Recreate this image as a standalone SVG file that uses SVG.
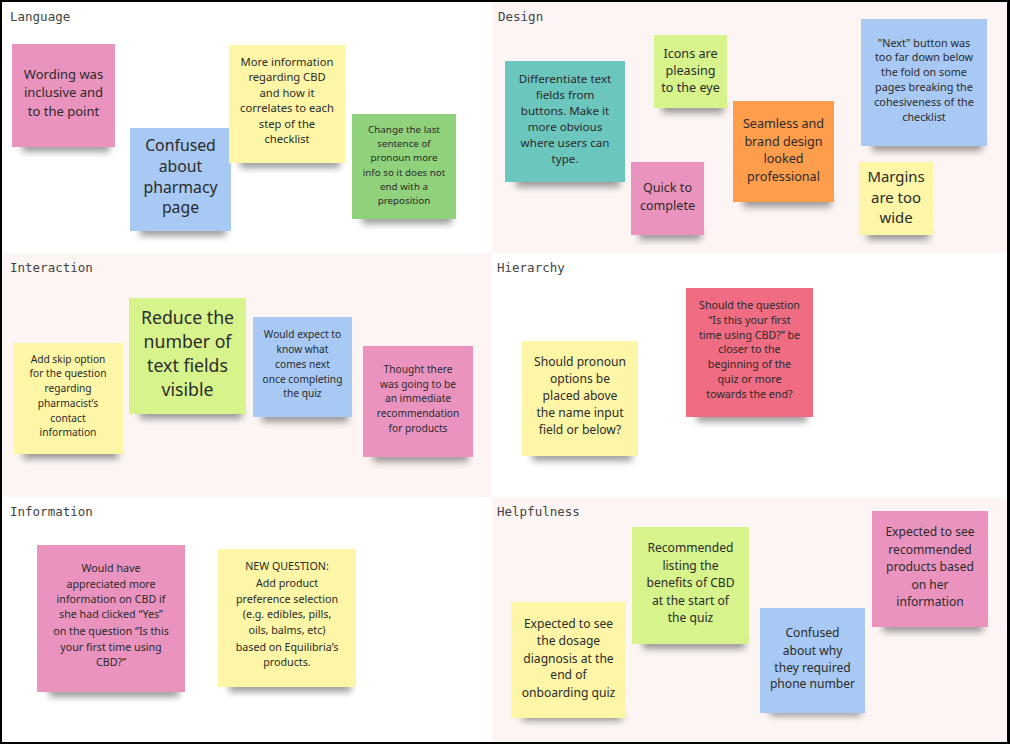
<svg xmlns="http://www.w3.org/2000/svg" width="1010" height="744" viewBox="0 0 1010 744">
<style>
.lbl{font-family:"DejaVu Sans Mono","Liberation Mono",monospace;font-size:12.5px;fill:#444}
.t{font-family:"Noto Sans","Open Sans",sans-serif;fill:#2b2b2b;text-anchor:middle}
.sh{fill:#000;opacity:.38;filter:url(#blur)}
.pink{fill:#ea93bf}.blue{fill:#a7c9f3}.yel{fill:#fdf6a6}.grn{fill:#90d27c}.teal{fill:#6bc6be}.lime{fill:#d6f38c}.org{fill:#fe9d4b}.red{fill:#ef6c82}
.bgw{fill:#ffffff}.bgp{fill:#fdf5f4}
</style>
<defs>
<filter id="blur" x="-20%" y="-100%" width="140%" height="300%"><feGaussianBlur stdDeviation="3.5"/></filter>
</defs>
<rect x="0" y="0" width="1010" height="744" fill="#000"/>
<g id="sections">
<rect class="bgw" x="2" y="2" width="490" height="251"/>
<rect class="bgp" x="492" y="2" width="515" height="251"/>
<rect class="bgp" x="2" y="253" width="490" height="244"/>
<rect class="bgw" x="492" y="253" width="515" height="244"/>
<rect class="bgw" x="2" y="497" width="490" height="245"/>
<rect class="bgp" x="492" y="497" width="515" height="245"/>
<text class="lbl" x="10" y="21">Language</text>
<text class="lbl" x="498" y="21">Design</text>
<text class="lbl" x="10" y="272">Interaction</text>
<text class="lbl" x="497" y="272">Hierarchy</text>
<text class="lbl" x="10" y="516">Information</text>
<text class="lbl" x="497" y="516">Helpfulness</text>
</g>
<g id="connectors"></g>

<g id="lang-1"><rect class="sh" x="22" y="140" width="88" height="12"/><rect class="pink" x="12" y="44" width="103" height="103"/>
<text class="t" font-size="13"><tspan x="63.5" y="79">Wording was</tspan><tspan x="63.5" y="97">inclusive and</tspan><tspan x="63.5" y="116">to the point</tspan></text></g>
<g id="lang-2"><rect class="sh" x="140" y="224" width="86" height="12"/><rect class="blue" x="130" y="128" width="101" height="103"/>
<text class="t" font-size="15.8"><tspan x="180.5" y="151">Confused</tspan><tspan x="180.5" y="172">about</tspan><tspan x="180.5" y="193">pharmacy</tspan><tspan x="180.5" y="213">page</tspan></text></g>
<g id="lang-3"><rect class="sh" x="240" y="156" width="100" height="12"/><rect class="yel" x="229" y="45" width="116" height="118"/>
<text class="t" font-size="11.2"><tspan x="287" y="66">More information</tspan><tspan x="287" y="81">regarding CBD</tspan><tspan x="287" y="97">and how it</tspan><tspan x="287" y="112">correlates to each</tspan><tspan x="287" y="128">step of the</tspan><tspan x="287" y="143">checklist</tspan></text></g>
<g id="lang-4"><rect class="sh" x="362" y="212" width="90" height="12"/><rect class="grn" x="352" y="114" width="104" height="105"/>
<text class="t" font-size="9.8"><tspan x="404" y="133">Change the last</tspan><tspan x="404" y="147">sentence of</tspan><tspan x="404" y="161">pronoun more</tspan><tspan x="404" y="176">info so it does not</tspan><tspan x="404" y="190">end with a</tspan><tspan x="404" y="204">preposition</tspan></text></g>

<g id="design-1"><rect class="sh" x="516" y="175" width="104" height="12"/><rect class="teal" x="505" y="61" width="120" height="121"/>
<text class="t" font-size="11.6"><tspan x="565" y="82.5">Differentiate text</tspan><tspan x="565" y="98.5">fields from</tspan><tspan x="565" y="114.5">buttons. Make it</tspan><tspan x="565" y="131">more obvious</tspan><tspan x="565" y="146.5">where users can</tspan><tspan x="565" y="162.5">type.</tspan></text></g>
<g id="design-2"><rect class="sh" x="662" y="101" width="62" height="12"/><rect class="lime" x="654" y="35" width="73" height="73"/>
<text class="t" font-size="12.6"><tspan x="690.5" y="58">Icons are</tspan><tspan x="690.5" y="75">pleasing</tspan><tspan x="690.5" y="92">to the eye</tspan></text></g>
<g id="design-3"><rect class="sh" x="639" y="228" width="62" height="12"/><rect class="pink" x="631" y="162" width="73" height="73"/>
<text class="t" font-size="12.6"><tspan x="667.5" y="192">Quick to</tspan><tspan x="667.5" y="210">complete</tspan></text></g>
<g id="design-4"><rect class="sh" x="743" y="195" width="88" height="12"/><rect class="org" x="733" y="101" width="101" height="101"/>
<text class="t" font-size="12.6"><tspan x="783.5" y="128">Seamless and</tspan><tspan x="783.5" y="146">brand design</tspan><tspan x="783.5" y="163">looked</tspan><tspan x="783.5" y="181">professional</tspan></text></g>
<g id="design-5"><rect class="sh" x="872" y="139" width="110" height="12"/><rect class="blue" x="861" y="19" width="126" height="127"/>
<text class="t" font-size="10.8"><tspan x="924" y="47">"Next" button was</tspan><tspan x="924" y="61">too far down below</tspan><tspan x="924" y="76">the fold on some</tspan><tspan x="924" y="91">pages breaking the</tspan><tspan x="924" y="106">cohesiveness of the</tspan><tspan x="924" y="121">checklist</tspan></text></g>
<g id="design-6"><rect class="sh" x="867" y="228" width="62" height="12"/><rect class="yel" x="859" y="162" width="74" height="73"/>
<text class="t" font-size="14.9"><tspan x="896" y="182">Margins</tspan><tspan x="896" y="203">are too</tspan><tspan x="896" y="223">wide</tspan></text></g>

<g id="inter-1"><rect class="sh" x="23" y="447" width="95" height="12"/><rect class="yel" x="13" y="343" width="110" height="111"/>
<text class="t" font-size="10.2"><tspan x="68" y="363">Add skip option</tspan><tspan x="68" y="377">for the question</tspan><tspan x="68" y="392">regarding</tspan><tspan x="68" y="407">pharmacist’s</tspan><tspan x="68" y="422">contact</tspan><tspan x="68" y="436">information</tspan></text></g>
<g id="inter-2"><rect class="sh" x="140" y="407" width="102" height="12"/><rect class="lime" x="129" y="298" width="117" height="116"/>
<text class="t" font-size="17.7"><tspan x="187.5" y="324">Reduce the</tspan><tspan x="187.5" y="348">number of</tspan><tspan x="187.5" y="372">text fields</tspan><tspan x="187.5" y="396">visible</tspan></text></g>
<g id="inter-3"><rect class="sh" x="262" y="410" width="86" height="12"/><rect class="blue" x="253" y="317" width="99" height="100"/>
<text class="t" font-size="10.2"><tspan x="302.5" y="338">Would expect to</tspan><tspan x="302.5" y="353">know what</tspan><tspan x="302.5" y="368">comes next</tspan><tspan x="302.5" y="383">once completing</tspan><tspan x="302.5" y="397">the quiz</tspan></text></g>
<g id="inter-4"><rect class="sh" x="373" y="450" width="95" height="12"/><rect class="pink" x="363" y="346" width="110" height="111"/>
<text class="t" font-size="10.2"><tspan x="418" y="373">Thought there</tspan><tspan x="418" y="388">was going to be</tspan><tspan x="418" y="402">an immediate</tspan><tspan x="418" y="417">recommendation</tspan><tspan x="418" y="432">for products</tspan></text></g>

<g id="hier-1"><rect class="sh" x="532" y="449" width="100" height="12"/><rect class="yel" x="522" y="341" width="116" height="115"/>
<text class="t" font-size="12.1"><tspan x="580" y="366">Should pronoun</tspan><tspan x="580" y="383">options be</tspan><tspan x="580" y="400">placed above</tspan><tspan x="580" y="417">the name input</tspan><tspan x="580" y="434">field or below?</tspan></text></g>
<g id="hier-2"><rect class="sh" x="697" y="410" width="110" height="12"/><rect class="red" x="686" y="288" width="127" height="129"/>
<text class="t" font-size="10.7"><tspan x="749.5" y="309">Should the question</tspan><tspan x="749.5" y="324">“Is this your first</tspan><tspan x="749.5" y="339">time using CBD?” be</tspan><tspan x="749.5" y="353">closer to the</tspan><tspan x="749.5" y="368">beginning of the</tspan><tspan x="749.5" y="383">quiz or more</tspan><tspan x="749.5" y="398">towards the end?</tspan></text></g>

<g id="info-1"><rect class="sh" x="49" y="685" width="130" height="12"/><rect class="pink" x="37" y="545" width="148" height="147"/>
<text class="t" font-size="10.7"><tspan x="111" y="572">Would have</tspan><tspan x="111" y="588">appreciated more</tspan><tspan x="111" y="603">information on CBD if</tspan><tspan x="111" y="618">she had clicked “Yes”</tspan><tspan x="111" y="635">on the question “Is this</tspan><tspan x="111" y="651">your first time using</tspan><tspan x="111" y="666">CBD?”</tspan></text></g>
<g id="info-2"><rect class="sh" x="229" y="680" width="122" height="12"/><rect class="yel" x="218" y="549" width="138" height="138"/>
<text class="t" font-size="10.7"><tspan x="287" y="570">NEW QUESTION:</tspan><tspan x="287" y="587">Add product</tspan><tspan x="287" y="603">preference selection</tspan><tspan x="287" y="618">(e.g. edibles, pills,</tspan><tspan x="287" y="634">oils, balms, etc)</tspan><tspan x="287" y="651">based on Equilibria’s</tspan><tspan x="287" y="666">products.</tspan></text></g>

<g id="help-1"><rect class="sh" x="522" y="711" width="100" height="10"/><rect class="yel" x="511" y="602" width="115" height="116"/>
<text class="t" font-size="12.1"><tspan x="568.5" y="628">Expected to see</tspan><tspan x="568.5" y="645">the dosage</tspan><tspan x="568.5" y="663">diagnosis at the</tspan><tspan x="568.5" y="679">end of</tspan><tspan x="568.5" y="697">onboarding quiz</tspan></text></g>
<g id="help-2"><rect class="sh" x="643" y="637" width="102" height="12"/><rect class="lime" x="632" y="527" width="117" height="117"/>
<text class="t" font-size="12.1"><tspan x="690.5" y="552">Recommended</tspan><tspan x="690.5" y="570">listing the</tspan><tspan x="690.5" y="587">benefits of CBD</tspan><tspan x="690.5" y="605">at the start of</tspan><tspan x="690.5" y="622">the quiz</tspan></text></g>
<g id="help-3"><rect class="sh" x="770" y="706" width="91" height="10"/><rect class="blue" x="760" y="608" width="105" height="105"/>
<text class="t" font-size="12.1"><tspan x="812.5" y="637">Confused</tspan><tspan x="812.5" y="655">about why</tspan><tspan x="812.5" y="672">they required</tspan><tspan x="812.5" y="688">phone number</tspan></text></g>
<g id="help-4"><rect class="sh" x="883" y="620" width="100" height="12"/><rect class="pink" x="872" y="511" width="116" height="116"/>
<text class="t" font-size="12.1"><tspan x="930" y="536">Expected to see</tspan><tspan x="930" y="554">recommended</tspan><tspan x="930" y="571">products based</tspan><tspan x="930" y="589">on her</tspan><tspan x="930" y="606">information</tspan></text></g>
</svg>
